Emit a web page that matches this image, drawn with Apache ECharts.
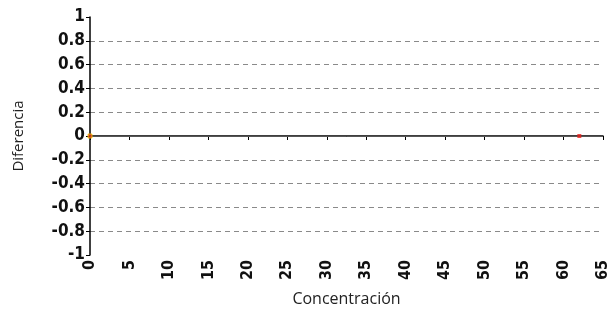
<!DOCTYPE html>
<html>
<head>
<meta charset="utf-8">
<script src="https://cdn.jsdelivr.net/npm/echarts@6/dist/echarts.min.js"></script>
<style>
  html, body { margin: 0; padding: 0; background: #fff; }
  #chart { width: 611px; height: 311px; }
</style>
</head>
<body>
<div id="chart"></div>
<script>
  // datos
  var concentracion = [0, 62];
  var diferencia = [0, 0];
  var puntoColor = ['#e8401c', '#e8201c'];

  var puntos = [];
  for (var i = 0; i < concentracion.length; i++) {
    puntos.push({
      value: [concentracion[i], diferencia[i]],
      itemStyle: { color: puntoColor[i], borderColor: i == 0 ? '#f5c400' : puntoColor[i], borderWidth: i == 0 ? 1 : 0 }
    });
  }

  // lineas de la cuadricula: sin linea en -1 ni en 1
  var gridColors = [];
  for (var k = 0; k <= 10; k++) {
    gridColors.push(k == 0 || k == 10 ? 'rgba(0,0,0,0)' : '#8a8a8a');
  }

  var fuenteEje = 'DejaVu Sans Condensed';

  var myChart = echarts.init(document.getElementById('chart'));
  myChart.setOption({
    animation: false,
    grid: { left: 90, right: 8, top: 17, bottom: 56, outerBoundsMode: 'none', containLabel: false },
    xAxis: {
      type: 'value',
      min: 0, max: 65, interval: 5,
      name: 'Concentración',
      nameLocation: 'middle',
      nameGap: 36,
      nameTextStyle: { fontFamily: 'Open Sans', fontSize: 16, color: '#222' },
      axisLine: { lineStyle: { color: '#000', width: 1.5 } },
      axisTick: { show: true, length: 4, lineStyle: { color: '#000' } },
      axisLabel: { rotate: 90, fontFamily: fuenteEje, fontWeight: 'bold', fontSize: 16, color: '#111', margin: 5 },
      splitLine: { show: false }
    },
    yAxis: {
      type: 'value',
      min: -1, max: 1, interval: 0.2,
      name: 'Diferencia',
      nameLocation: 'middle',
      nameRotate: 90,
      nameGap: 64,
      nameTextStyle: { fontFamily: 'Open Sans', fontSize: 15, color: '#222' },
      axisLine: { show: true, lineStyle: { color: '#000', width: 1.5 } },
      axisTick: { show: true, length: 4, lineStyle: { color: '#000' } },
      axisLabel: { fontFamily: fuenteEje, fontWeight: 'bold', fontSize: 17, color: '#111', margin: 5 },
      splitLine: { show: true, lineStyle: { type: [5, 4], color: gridColors } }
    },
    series: [{
      type: 'scatter',
      data: puntos,
      symbol: 'rect',
      symbolSize: 4,
      markLine: {
        silent: true,
        symbol: ['none', 'none'],
        label: { show: false },
        lineStyle: { color: '#555', type: 'solid', width: 1 },
        data: [{ yAxis: 0 }]
      },
      z: 5
    }]
  });
</script>
</body>
</html>
